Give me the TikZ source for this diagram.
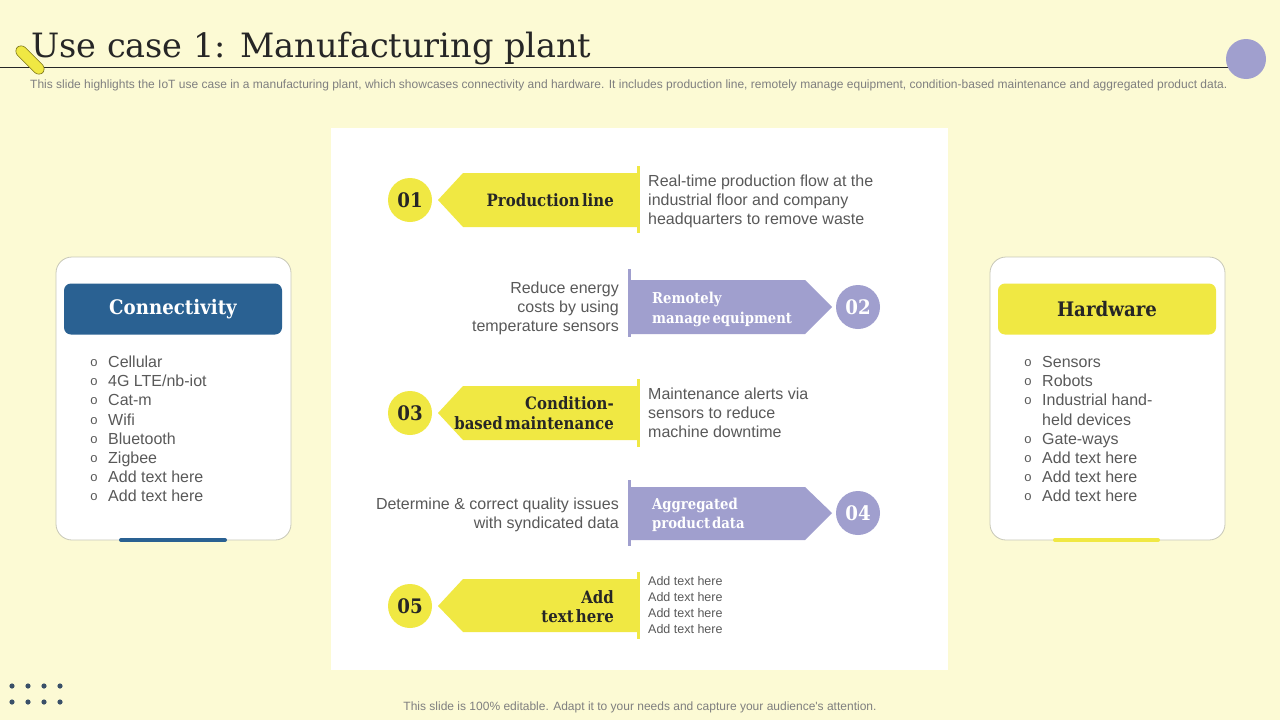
\documentclass[tikz,border=0pt]{standalone}
\usepackage{fontspec}
\newfontfamily\sansf{Liberation Sans}
\newfontfamily\titlef{DejaVu Serif}
\newfontfamily\boldf[FakeStretch=0.88, WordSpace=0.45]{DejaVu Serif Bold}
\newfontfamily\hdrf[FakeStretch=0.91]{DejaVu Serif Bold}
\definecolor{bg}{HTML}{FCFAD4}
\definecolor{yel}{HTML}{F0E843}
\definecolor{pur}{HTML}{A09FCE}
\definecolor{blu}{HTML}{2A6192}
\definecolor{txt}{HTML}{595959}
\definecolor{subc}{HTML}{7F7F7F}
\definecolor{dotc}{HTML}{3A5068}
\definecolor{ttl}{HTML}{262626}
\definecolor{cardline}{HTML}{C8C8B8}
\tikzset{
  desc/.style={inner sep=0pt, font=\sansf\fontsize{16}{19}\selectfont, text=txt},
  small/.style={inner sep=0pt, font=\sansf\fontsize{12.5}{15}\selectfont, text=txt},
  lbl/.style={inner sep=0pt, font=\boldf\fontsize{17}{19}\selectfont, text=ttl},
  wlbl/.style={inner sep=0pt, font=\boldf\fontsize{15}{19}\selectfont, text=white},
  numc/.style={circle, minimum size=44pt, inner sep=0pt, font=\hdrf\fontsize{20}{20}\selectfont},
  bul/.style={inner sep=0pt, font=\sansf\fontsize{13}{13}\selectfont, text=txt},
  card/.style={draw=cardline, line width=0.8pt, fill=white, rounded corners=16pt},
  hdr/.style={rounded corners=7pt, minimum width=218pt, minimum height=51pt, inner sep=0pt, font=\hdrf\fontsize{20}{20}\selectfont},
}
\begin{document}
\begin{tikzpicture}[x=1pt, y=-1pt]
\useasboundingbox (0,0) rectangle (1280,720);
\fill[bg] (0,0) rectangle (1280,720);

% title
\node[anchor=base west, inner sep=0pt, font=\titlef\fontsize{33.5}{33.5}\selectfont, text=ttl] (title) at (31,57) {Use case 1: Manufacturing plant};
\coordinate (ls) at (0,67);
\coordinate (le) at (1236,67);
\draw[ttl, line width=0.8pt] (ls) -- (le);
\node[circle, fill=pur, minimum size=40pt, inner sep=0pt] (pc) at (1246,59) {};
\node[rounded corners=6pt, fill=yel, draw=olive!80!black, line width=0.6pt, minimum width=36pt, minimum height=11pt, inner sep=0pt, rotate=-45] (pill) at (30,60) {};
\node[anchor=base west, inner sep=0pt, font=\sansf\fontsize{12}{12}\selectfont, text=subc] (subt) at (30,88) {This slide highlights the IoT use case in a manufacturing plant, which showcases connectivity and hardware. It includes production line, remotely manage equipment, condition-based maintenance and aggregated product data.};

% center panel
\fill[white] (331,128) rectangle (948,670);

% Row 1
\fill[yel] (438,200) -- (463,173) -- (637,173) -- (637,227) -- (463,227) -- cycle;
\draw[yel, line width=3pt] (638,166) -- (638,233);
\node[numc, fill=yel, text=ttl] (n1) at (410,200) {01};
\node[lbl, anchor=base east] (l1) at (614,206) {Production line};
\node[desc, anchor=base west] (d1a) at (648,186) {Real-time production flow at the};
\node[desc, anchor=base west] (d1b) at (648,205) {industrial floor and company};
\node[desc, anchor=base west] (d1c) at (648,224) {headquarters to remove waste};

% Row 2
\fill[pur] (630,280) -- (805,280) -- (832,307) -- (805,334) -- (630,334) -- cycle;
\draw[pur, line width=3pt] (629,269) -- (629,337);
\node[numc, fill=pur, text=white] (n2) at (858,307) {02};
\node[wlbl, anchor=base west] (l2a) at (652,303) {Remotely};
\node[wlbl, anchor=base west] (l2b) at (652,323) {manage equipment};
\node[desc, anchor=base east] (d2a) at (619,293) {Reduce energy};
\node[desc, anchor=base east] (d2b) at (619,312) {costs by using};
\node[desc, anchor=base east] (d2c) at (619,331) {temperature sensors};

% Row 3
\fill[yel] (438,413) -- (463,386) -- (637,386) -- (637,440) -- (463,440) -- cycle;
\draw[yel, line width=3pt] (638,379) -- (638,447);
\node[numc, fill=yel, text=ttl] (n3) at (410,413) {03};
\node[lbl, anchor=base east] (l3a) at (614,409) {Condition-};
\node[lbl, anchor=base east] (l3b) at (614,429) {based maintenance};
\node[desc, anchor=base west] (d3a) at (648,399) {Maintenance alerts via};
\node[desc, anchor=base west] (d3b) at (648,418) {sensors to reduce};
\node[desc, anchor=base west] (d3c) at (648,437) {machine downtime};

% Row 4
\fill[pur] (630,487) -- (805,487) -- (832,513) -- (805,540) -- (630,540) -- cycle;
\draw[pur, line width=3pt] (629,480) -- (629,546);
\node[numc, fill=pur, text=white] (n4) at (858,513) {04};
\node[wlbl, anchor=base west] (l4a) at (652,509) {Aggregated};
\node[wlbl, anchor=base west] (l4b) at (652,528) {product data};
\node[desc, anchor=base east] (d4a) at (619,509) {Determine \& correct quality issues};
\node[desc, anchor=base east] (d4b) at (619,528) {with syndicated data};

% Row 5
\fill[yel] (438,606) -- (463,579) -- (637,579) -- (637,632) -- (463,632) -- cycle;
\draw[yel, line width=3pt] (638,572) -- (638,639);
\node[numc, fill=yel, text=ttl] (n5) at (410,606) {05};
\node[lbl, anchor=base east] (l5a) at (614,603) {Add};
\node[lbl, anchor=base east] (l5b) at (614,622) {text here};
\foreach \i/\yy in {1/585.5,2/601.5,3/617.5,4/633.5}
  \node[small, anchor=base west] (d5\i) at (648,\yy) {Add text here};

% Left card
\draw[card] (56,257) rectangle (291,540);
\node[hdr, fill=blu, text=white] (hc) at (173,309) {Connectivity};
\draw[blu, line width=4pt, line cap=round] (121,540) -- (225,540);
\foreach \t [count=\i] in {Cellular,4G LTE/nb-iot,Cat-m,Wifi,Bluetooth,Zigbee,Add text here,Add text here}{
  \node[bul, anchor=base] (cb\i) at (94,{366.5+19.2*(\i-1)}) {o};
  \node[desc, anchor=base west] (ct\i) at (108,{367.5+19.2*(\i-1)}) {\t};
}

% Right card
\draw[card] (990,257) rectangle (1225,540);
\node[hdr, fill=yel, text=ttl] (hh) at (1107,309) {Hardware};
\draw[yel, line width=4pt, line cap=round] (1055,540) -- (1158,540);
\foreach \t/\b [count=\i] in {Sensors/1,Robots/1,Industrial hand-/1,held devices/0,Gate-ways/1,Add text here/1,Add text here/1,Add text here/1}{
  \ifnum\b=1 \node[bul, anchor=base] (hb\i) at (1028,{366.5+19.2*(\i-1)}) {o};\fi
  \node[desc, anchor=base west] (ht\i) at (1042,{367.5+19.2*(\i-1)}) {\t};
}

% dots
\foreach \r in {0,1}
  \foreach \c in {0,1,2,3}
    \fill[dotc] ({12+16*\c},{686+16*\r}) circle (2.6);

% footer
\node[anchor=base, inner sep=0pt, font=\sansf\fontsize{12}{12}\selectfont, text=subc] (foot) at (640,710) {This slide is 100\% editable. Adapt it to your needs and capture your audience's attention.};
\end{tikzpicture}
\end{document}
